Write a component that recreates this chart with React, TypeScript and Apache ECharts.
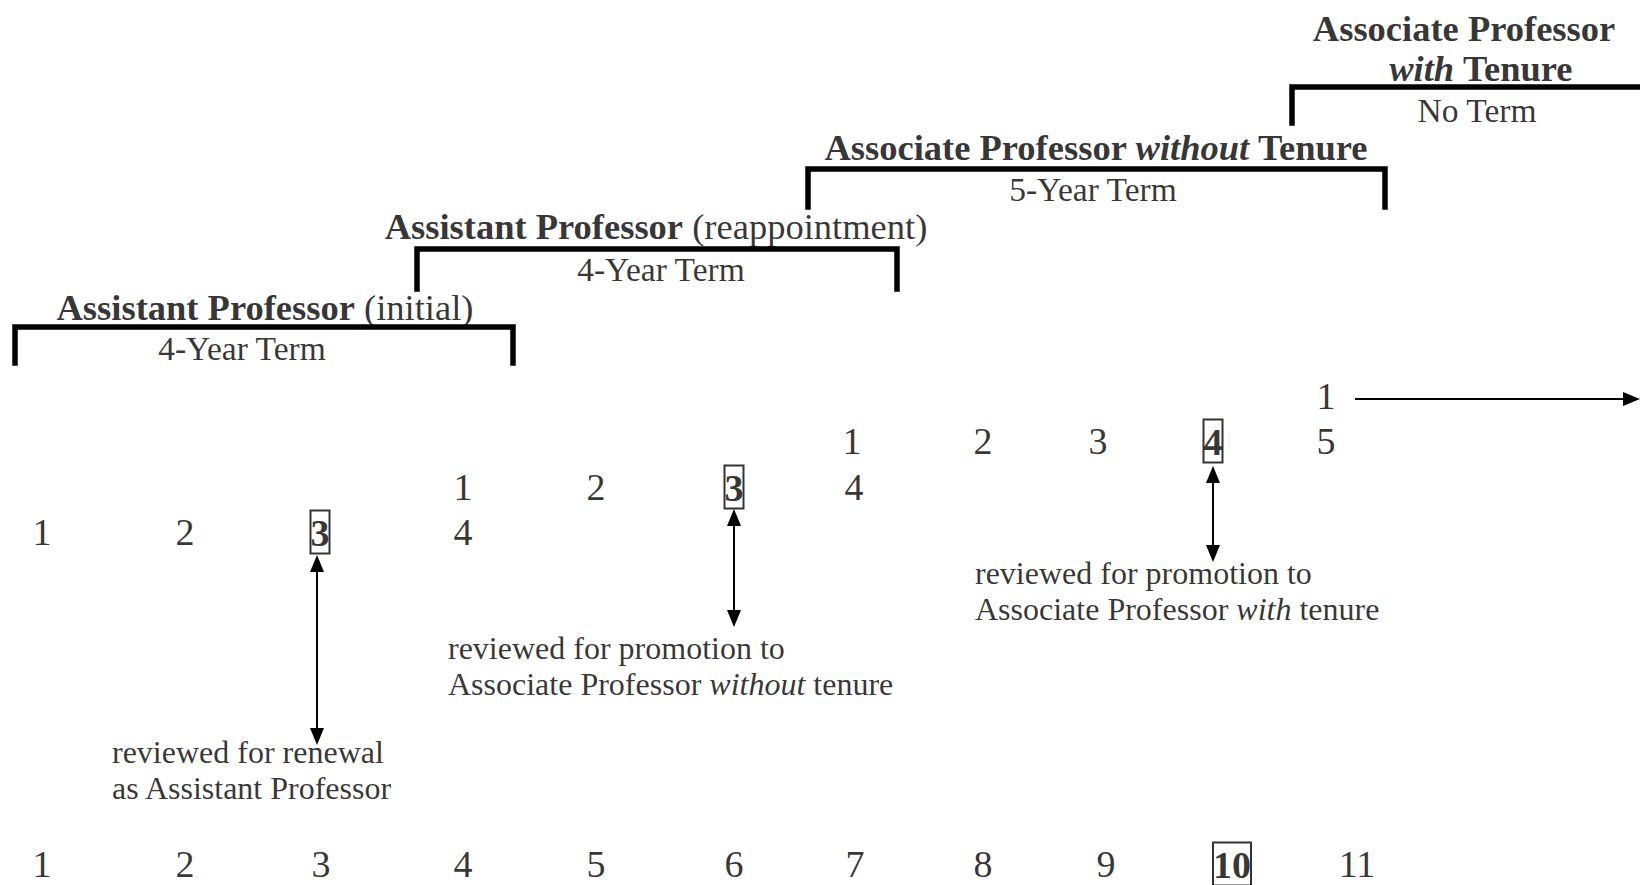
import React, { useEffect, useRef } from "react";
import * as echarts from "echarts";

const FONT = '"Liberation Serif", "Times New Roman", Times, serif';

// ---- Appointment brackets (diagram units = page pixels on hidden axes) ----
const bracketStartX = [15, 417, 808, 1292];
const bracketEndX = [513, 897, 1385, 1640];
const bracketTopY = [327, 249, 169, 87];
const bracketFootY = [363, 289, 207, 123];
const bracketOpenEnded = [false, false, false, true];

// ---- Appointment titles ----
const titleTexts = [
  "{hb|Assistant Professor}{hr| (initial)}",
  "{hb|Assistant Professor}{hr| (reappointment)}",
  "{hb|Associate Professor }{hbi|without}{hb| Tenure}",
  "{hb|Associate Professor}",
  "{hbi|with}{hb| Tenure}",
];
const titleX = [265, 656, 1096, 1464, 1481];
const titleY = [307, 226, 147, 28, 68];

const termTexts = ["4-Year Term", "4-Year Term", "5-Year Term", "No Term"];
const termX = [242, 661, 1093, 1477];
const termY = [348, 269, 189, 110];

// ---- Year counters within each appointment ----
const rowALabels = ["1", "2", "3", "4"];
const rowAX = [42, 185, 320, 463];
const rowAY = 532;
const rowABoxed = 2;

const rowBLabels = ["1", "2", "3", "4"];
const rowBX = [463, 596, 734, 854];
const rowBY = 487;
const rowBBoxed = 2;

const rowCLabels = ["1", "2", "3", "4", "5"];
const rowCX = [852, 983, 1098, 1213, 1326];
const rowCY = 441;
const rowCBoxed = 3;

const rowDLabels = ["1"];
const rowDX = [1326];
const rowDY = 396;
const rowDBoxed = -1;

// ---- Overall years of service ----
const serviceLabels = ["1", "2", "3", "4", "5", "6", "7", "8", "9", "10", "11"];
const serviceX = [42, 185, 321, 463, 596, 734, 855, 983, 1106, 1232, 1357];
const serviceY = 864;
const serviceBoxed = 9;

// ---- Review annotations ----
const annotationTexts = [
  "{t|reviewed for renewal}\n{t|as Assistant Professor}",
  "{t|reviewed for promotion to}\n{t|Associate Professor }{ti|without}{t| tenure}",
  "{t|reviewed for promotion to}\n{t|Associate Professor }{ti|with}{t| tenure}",
];
const annotationX = [112, 448, 975];
const annotationY = [770, 666, 591];

// ---- Review arrows ----
const arrowX = [317, 734, 1213];
const arrowFromY = [555, 509, 466];
const arrowToY = [745, 627, 562];
const tenureArrowFromX = 1355;
const tenureArrowToX = 1640;
const tenureArrowY = 399;

const HEAD_W = 14;
const HEAD_L = 17;

function digitItems(labels: string[], xs: number[], y: number, boxed: number) {
  return labels.map((l, i) => ({
    value: [xs[i], y],
    label: { formatter: i === boxed ? `{box|${l}}` : `{d|${l}}` },
  }));
}

function buildOption() {
  const bracketData = bracketStartX.map((x1, i) => {
    const x2 = bracketEndX[i];
    const top = bracketTopY[i];
    const foot = bracketFootY[i];
    const coords = bracketOpenEnded[i]
      ? [[x1, foot], [x1, top], [x2, top]]
      : [[x1, foot], [x1, top], [x2, top], [x2, foot]];
    return { coords };
  });

  const titleData = titleTexts.map((t, i) => ({
    value: [titleX[i], titleY[i]],
    label: { formatter: t },
  }));
  const termData = termTexts.map((t, i) => ({
    value: [termX[i], termY[i]],
    label: { formatter: `{hr2|${t}}` },
  }));

  const digitData = [
    ...digitItems(rowALabels, rowAX, rowAY, rowABoxed),
    ...digitItems(rowBLabels, rowBX, rowBY, rowBBoxed),
    ...digitItems(rowCLabels, rowCX, rowCY, rowCBoxed),
    ...digitItems(rowDLabels, rowDX, rowDY, rowDBoxed),
    ...digitItems(serviceLabels, serviceX, serviceY, serviceBoxed),
  ];

  const annData = annotationTexts.map((t, i) => ({
    value: [annotationX[i], annotationY[i]],
    label: { formatter: t },
  }));

  const half = HEAD_L / 2;
  const arrowData: any[] = arrowX.map((x, i) => [
    { coord: [x, arrowFromY[i] + half], symbol: "triangle" },
    { coord: [x, arrowToY[i] - half], symbol: "triangle" },
  ]);
  arrowData.push([
    { coord: [tenureArrowFromX, tenureArrowY], symbol: "none" },
    { coord: [tenureArrowToX - half, tenureArrowY], symbol: "triangle" },
  ]);

  const base = { fontFamily: FONT, color: "#000" };
  const rich = {
    hb: { ...base, fontSize: 36.5, fontWeight: "bold" },
    hbi: { ...base, fontSize: 36.5, fontWeight: "bold", fontStyle: "italic" },
    hr: { ...base, fontSize: 36.5 },
    hr2: { ...base, fontSize: 33.5 },
    d: { ...base, fontSize: 38 },
    box: {
      ...base,
      fontSize: 38,
      fontWeight: "bold",
      borderColor: "#000",
      borderWidth: 2,
      padding: [3, 0, 2, 0],
    },
    t: { ...base, fontSize: 32, lineHeight: 36.6 },
    ti: { ...base, fontSize: 32, lineHeight: 36.6, fontStyle: "italic" },
  };

  const textSeries = (name: string, data: any[], align: string) => ({
    name,
    type: "scatter",
    symbolSize: 1,
    silent: true,
    clip: false,
    itemStyle: { color: "rgba(0,0,0,0)" },
    emphasis: { disabled: true },
    label: {
      show: true,
      position: "inside",
      align,
      verticalAlign: "middle",
      rich,
    },
    data,
  });

  return {
    animation: false,
    backgroundColor: "#fff",
    grid: { left: 0, right: 0, top: 0, bottom: 0 },
    xAxis: { type: "value", min: 0, max: 1640, show: false },
    yAxis: { type: "value", min: 0, max: 885, inverse: true, show: false },
    series: [
      {
        name: "brackets",
        type: "lines",
        coordinateSystem: "cartesian2d",
        polyline: true,
        silent: true,
        clip: false,
        lineStyle: { color: "#000", width: 5.5, opacity: 1, cap: "square", join: "miter" },
        data: bracketData,
      },
      textSeries("titles", titleData, "center"),
      textSeries("terms", termData, "center"),
      textSeries("years", digitData, "center"),
      {
        ...textSeries("reviews", annData, "left"),
        markLine: {
          silent: true,
          symbolSize: [HEAD_W, HEAD_L],
          lineStyle: { color: "#000", width: 2, type: "solid" },
          label: { show: false },
          emphasis: { disabled: true },
          data: arrowData,
        },
      },
    ],
  };
}

export default function App() {
  const ref = useRef<HTMLDivElement>(null);
  useEffect(() => {
    if (!ref.current) return;
    const chart = echarts.init(ref.current, null, { renderer: "svg" });
    chart.setOption(buildOption() as any);
    return () => chart.dispose();
  }, []);
  return (
    <div
      ref={ref}
      style={{ position: "fixed", left: 0, top: 0, width: 1640, height: 885, background: "#fff" }}
    />
  );
}
